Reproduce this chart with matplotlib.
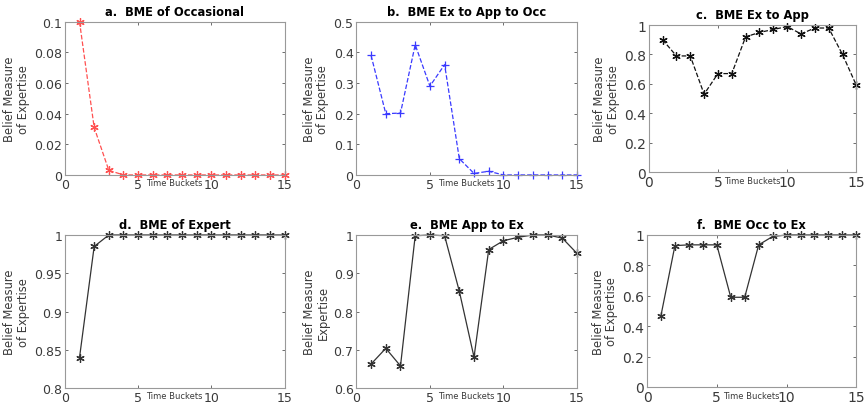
import matplotlib
matplotlib.use("Agg")
import matplotlib.pyplot as plt
import numpy as np

buckets = list(range(1, 16))

occ = [0.1, 0.031, 0.003, 0, 0, 0, 0, 0, 0, 0, 0, 0, 0, 0, 0]
ex_app_occ = [0.39, 0.2, 0.202, 0.425, 0.29, 0.36, 0.053, 0.005, 0.012, 0, 0, 0, 0, 0, 0]
ex_app = [0.9, 0.79, 0.79, 0.53, 0.67, 0.67, 0.92, 0.95, 0.97, 0.99, 0.94, 0.98, 0.98, 0.80, 0.59]
expert = [0.84, 0.985, 1.0, 1.0, 1.0, 1.0, 1.0, 1.0, 1.0, 1.0, 1.0, 1.0, 1.0, 1.0, 1.0]
app_ex = [0.663, 0.704, 0.658, 0.998, 1.0, 0.998, 0.853, 0.681, 0.962, 0.985, 0.994, 1.0, 1.0, 0.992, 0.952]
occ_ex = [0.47, 0.93, 0.935, 0.935, 0.935, 0.59, 0.59, 0.935, 0.99, 1, 1, 1, 1, 1, 1]

titles = ["a.  BME of Occasional", "b.  BME Ex to App to Occ", "c.  BME Ex to App",
          "d.  BME of Expert", "e.  BME App to Ex", "f.  BME Occ to Ex"]
ylabels = ["Belief Measure\nof Expertise"] * 4 + ["Belief Measure\nExpertise", "Belief Measure\nof Expertise"]

# panel placement [left, bottom, width, height]
boxes = [[0.075, 0.575, 0.254, 0.370],
         [0.412, 0.575, 0.255, 0.370],
         [0.750, 0.582, 0.240, 0.355],
         [0.075, 0.060, 0.254, 0.370],
         [0.412, 0.060, 0.255, 0.370],
         [0.748, 0.063, 0.242, 0.367]]

series = [occ, ex_app_occ, ex_app, expert, app_ex, occ_ex]
colors = ["#ff5050", "#3a3aff", "#111111", "#333333", "#333333", "#333333"]
styles = ["--", "--", "--", "-", "-", "-"]
markers = [(6, 2, 0), "+", (6, 2, 0), (6, 2, 0), (6, 2, 0), (6, 2, 0)]
ylims = [(0, 0.1), (0, 0.5), (0, 1), (0.8, 1), (0.6, 1), (0, 1)]
yticks = [np.arange(0, 0.101, 0.02), np.arange(0, 0.51, 0.1), np.arange(0, 1.01, 0.2),
          np.arange(0.8, 1.001, 0.05), np.arange(0.6, 1.001, 0.1), np.arange(0, 1.01, 0.2)]
ytlabels = [["0", "0.02", "0.04", "0.06", "0.08", "0.1"],
            ["0", "0.1", "0.2", "0.3", "0.4", "0.5"],
            ["0", "0.2", "0.4", "0.6", "0.8", "1"],
            ["0.8", "0.85", "0.9", "0.95", "1"],
            ["0.6", "0.7", "0.8", "0.9", "1"],
            ["0", "0.2", "0.4", "0.6", "0.8", "1"]]
tick_sizes = [9, 9, 10, 9, 9, 10]

fig = plt.figure(figsize=(8.65, 4.14), dpi=100)

for i in range(6):
    ax = fig.add_axes(boxes[i])
    ax.plot(buckets, series[i], linestyle=styles[i], color=colors[i], marker=markers[i],
            markersize=6, markeredgewidth=0.9, linewidth=0.9, clip_on=False)
    ax.set_xlim(0, 15)
    ax.set_ylim(*ylims[i])
    ax.set_xticks([0, 5, 10, 15])
    ax.set_yticks(yticks[i])
    ax.set_yticklabels(ytlabels[i])
    ax.tick_params(direction="in", top=True, right=True, length=2.5, width=0.6,
                   labelsize=tick_sizes[i], colors="#555555", labelcolor="#3a3a3a", pad=2)
    for s in ax.spines.values():
        s.set_color("#999999")
        s.set_linewidth(0.8)
    ax.set_title(titles[i], fontsize=8.3, fontweight="bold", pad=5)
    ax.set_ylabel(ylabels[i], fontsize=8.3, color="#3a3a3a", labelpad=3, linespacing=1.05)
    ax.set_xlabel("Time Buckets", fontsize=6, color="#3a3a3a", labelpad=-9)

fig.savefig("out.png", dpi=100)
